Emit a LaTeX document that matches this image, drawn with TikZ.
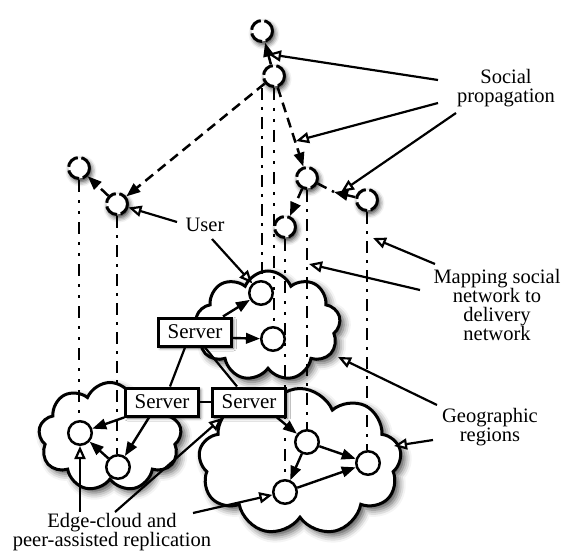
\documentclass[tikz,border=0pt]{standalone}
\usepackage{fontspec}
\setmainfont{Liberation Serif}
\usetikzlibrary{shapes.symbols,arrows.meta,calc,shadows.blur}
\pgfdeclarelayer{mid}
\pgfdeclarelayer{fg}
\pgfsetlayers{main,mid,fg}
\tikzset{
  txt/.style={font=\fontsize{20.5}{19}\selectfont, align=center, inner sep=0pt},
  soc/.style={circle, draw, line width=3pt, dash pattern=on 14pt off 3.6pt, fill=white,
    minimum size=21pt, inner sep=0pt,
    blur shadow={shadow xshift=2pt, shadow yshift=-3pt, shadow blur radius=5pt, shadow opacity=85}},
  del/.style={circle, draw, line width=2.5pt, fill=white, minimum size=23.5pt, inner sep=0pt},
  srv/.style={rectangle, draw, line width=3pt, fill=white, minimum width=73pt,
    minimum height=28pt, inner sep=0pt, font=\fontsize{21}{18}\selectfont,
    blur shadow={shadow xshift=2pt, shadow yshift=-2pt, shadow blur radius=3pt, shadow opacity=60}},
  region/.style={cloud, cloud puffs=9, cloud puff arc=135, cloud ignores aspect, draw,
    line width=3pt, fill=white, inner sep=0pt,
    blur shadow={shadow xshift=4pt, shadow yshift=-4pt, shadow blur radius=7pt, shadow opacity=70}},
  sedge/.style={line width=2.5pt, dash pattern=on 10pt off 6pt, -{Triangle[length=14pt,width=10.5pt]}},
  dline/.style={line width=2.5pt, dash pattern=on 10pt off 6pt},
  fedge/.style={line width=2.4pt, -{Triangle[length=14pt,width=10.5pt]}},
  ann/.style={line width=2.2pt, -{Triangle[fill=white,length=13pt,width=11pt,line width=2.2pt]}},
  link/.style={line width=2.2pt},
  mapa/.style={line width=2.8pt, dash pattern=on 12pt off 7pt on 3pt off 7pt},
  mapb/.style={line width=2.8pt, dash pattern=on 12pt off 8pt on 3pt off 8pt on 3pt off 8pt},
}
\begin{document}
\begin{tikzpicture}[x=1pt,y=-1pt]
\useasboundingbox (0,0) rectangle (563,551);

% regions (main layer, lowest)
\node[region, minimum width=145pt, minimum height=110pt] (UC) at (268,326) {};
\node[region, minimum width=143pt, minimum height=109pt] (LC) at (110,437) {};
\node[region, minimum width=203pt, minimum height=147pt] (BC) at (300,462) {};

\begin{pgfonlayer}{fg}
% social network users
\node[soc] (A) at (262,31) {};
\node[soc] (B) at (274,76) {};
\node[soc] (C) at (79,168) {};
\node[soc] (D) at (117,204) {};
\node[soc] (E) at (307,178) {};
\node[soc] (F) at (367,200) {};
\node[soc] (G) at (285,227) {};

% delivery network nodes
\node[del] (H) at (261,293) {};
\node[del] (I) at (273,339) {};
\node[del] (J) at (80,433) {};
\node[del] (K) at (118,467) {};
\node[del] (L) at (307,442) {};
\node[del] (N) at (368,463) {};
\node[del] (M) at (285,492) {};

% servers
\node[srv] (S1) at (195,332) {Server};
\node[srv] (S2) at (162,402) {Server};
\node[srv] (S3) at (249,402) {Server};

% labels
\node[txt] (soctxt) at (506,88) {Social\\propagation};
\node[txt] (maptxt) at (497,305) {Mapping social\\network to\\delivery\\network};
\node[txt] (geotxt) at (490,427) {Geographic\\regions};
\node[txt] (usertxt) at (205,225) {User};
\node[txt, font=\fontsize{20.5}{17}\selectfont] (edgetxt) at (112,532) {Edge-cloud and\\peer-assisted replication};
\end{pgfonlayer}

% mapping lines and server links
\begin{pgfonlayer}{mid}
\draw[mapb] (C.south) -- (C.south |- J.north);
\draw[mapa] (D.south) -- (D.south |- K.north);
\draw[mapa] (A.south |- B.south) -- (A.south |- H.north);
\draw[mapb] (B.south) -- (B.south |- I.north);
\draw[mapa] (E.south) -- (E.south |- L.north);
\draw[mapa] (F.south) -- (F.south |- N.north);
\draw[mapb] (G.south) -- (G.south |- M.north);
\draw[link] ($(S1.south)+(-10,0)$) -- ($(S2.north)+(8,0)$);
\draw[link] ($(S1.south)+(10,0)$) -- ($(S3.north)+(-12,0)$);
\draw[link] (S2.east) -- (S3.west);
\end{pgfonlayer}

\begin{pgfonlayer}{fg}
% social propagation edges
\coordinate (ef) at (334,192);
\draw[sedge] (B) -- (A);
\draw[sedge] (B) -- (D);
\draw[sedge] (D) -- (C);
\draw[sedge] (B) -- (E);
\draw[dline] (E) -- (ef);
\draw[fedge] (F) -- (ef);
\draw[sedge] (E) -- (G);

% delivery edges
\draw[fedge] ($(S1.north east)+(-10,0)$) -- (H);
\draw[fedge] ($(S1.east)+(0,6)$) -- (I);
\draw[fedge] (S2.south west) -- (J);
\draw[fedge] ($(S2.south)+(-13,0)$) -- (K);
\draw[fedge] (K) -- (J);
\draw[fedge] ($(S3.south east)+(-10,0)$) -- (L);
\draw[fedge] (L) -- (M);
\draw[fedge] (L) -- (N);
\draw[fedge] (M) -- (N);

% annotation arrows
\coordinate (s1) at (438,80);  \coordinate (t1) at (268,54);
\coordinate (s2) at (438,103); \coordinate (t2) at (296,141);
\coordinate (s3) at (456,113); \coordinate (t3) at (341,192);
\draw[ann] (s1) -- (t1);
\draw[ann] (s2) -- (t2);
\draw[ann] (s3) -- (t3);
\coordinate (u1) at (177,222); \coordinate (u2) at (212,239);
\draw[ann] (u1) -- (D);
\draw[ann] (u2) -- (H);
\coordinate (m1) at (435,264); \coordinate (mt1) at (373,238);
\coordinate (m2) at (420,290); \coordinate (mt2) at (309,264);
\draw[ann] (m1) -- (mt1);
\draw[ann] (m2) -- (mt2);
\coordinate (g1) at (437,405); \coordinate (gt1) at (338,357);
\coordinate (g2) at (433,440); \coordinate (gt2) at (394,446);
\draw[ann] (g1) -- (gt1);
\draw[ann] (g2) -- (gt2);
\coordinate (e1) at (80,512);
\coordinate (e2) at (115,512); \coordinate (et2) at (222,418);
\coordinate (e3) at (193,513);
\draw[ann] (e1) -- (J);
\draw[ann] (e2) -- (et2);
\draw[ann] (e3) -- (M);
\end{pgfonlayer}
\end{tikzpicture}
\end{document}
